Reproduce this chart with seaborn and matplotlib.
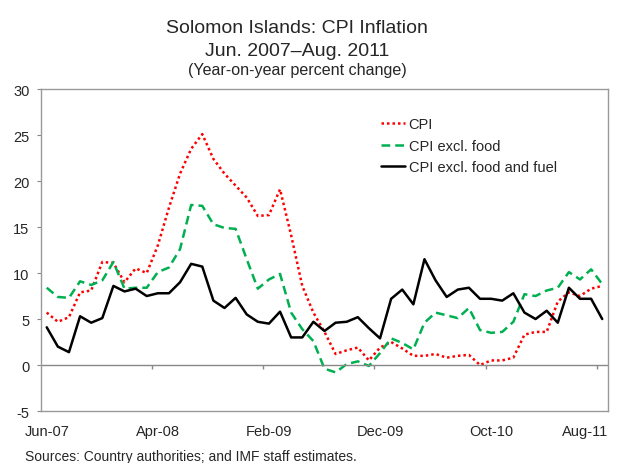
import numpy as np
import pandas as pd
import seaborn as sns
import matplotlib.pyplot as plt

# monthly, Jun-07 .. Aug-11 (51 months)
months = pd.date_range('2007-06-01', '2011-08-01', freq='MS')
cpi = [5.7, 4.7, 5.2, 7.9, 8.1, 11.2, 11.1, 9.0, 10.5, 10.0,
       13.0, 17.1, 20.8, 23.5, 25.1, 22.4, 20.8, 19.5, 18.2, 16.2,
       16.3, 19.1, 14.1, 8.6, 5.7, 3.6, 1.2, 1.6, 1.9, 0.5,
       1.9, 2.5, 1.8, 1.0, 1.0, 1.2, 0.8, 1.0, 1.1, 0.0,
       0.5, 0.5, 0.8, 3.3, 3.6, 3.6, 6.9, 7.9, 7.5, 8.3, 8.6]
cpi_xfood = [8.4, 7.4, 7.3, 9.1, 8.7, 9.2, 11.2, 8.3, 8.4, 8.4,
             10.1, 10.6, 12.6, 17.4, 17.3, 15.3, 14.9, 14.8, 11.5, 8.3,
             9.3, 9.9, 5.7, 3.9, 2.6, -0.4, -0.8, 0.1, 0.4, -0.1,
             1.3, 2.9, 2.4, 1.7, 4.6, 5.7, 5.4, 5.1, 6.2, 3.8,
             3.5, 3.6, 4.7, 7.7, 7.5, 8.1, 8.4, 10.1, 9.3, 10.4, 8.8]
cpi_xfoodfuel = [4.1, 2.0, 1.4, 5.3, 4.6, 5.1, 8.6, 8.0, 8.3, 7.5,
                 7.8, 7.8, 9.0, 11.0, 10.7, 7.0, 6.2, 7.3, 5.5, 4.7,
                 4.5, 5.8, 3.0, 3.0, 4.7, 3.7, 4.6, 4.7, 5.2, 4.0,
                 2.9, 7.2, 8.2, 6.6, 11.5, 9.2, 7.4, 8.2, 8.4, 7.2,
                 7.2, 7.0, 7.8, 5.7, 5.0, 5.9, 4.6, 8.4, 7.2, 7.2, 5.0]
tick_labels = ['Jun-07', 'Apr-08', 'Feb-09', 'Dec-09', 'Oct-10', 'Aug-11']

df = pd.DataFrame({'i': np.arange(len(months)), 'CPI': cpi,
                   'CPI excl. food': cpi_xfood,
                   'CPI excl. food and fuel': cpi_xfoodfuel})

sns.set_style('white')
plt.rcParams['font.family'] = ['Liberation Sans', 'DejaVu Sans']
plt.rcParams['axes.unicode_minus'] = False

fig = plt.figure(figsize=(6.24, 4.64), dpi=100)
ax = fig.add_axes([0.066, 0.112, 0.908, 0.694])

sns.lineplot(data=df, x='i', y='CPI', ax=ax, color='#FF0000', lw=1.8,
             linestyle=(0, (1, 1.2)), label='CPI')
sns.lineplot(data=df, x='i', y='CPI excl. food', ax=ax, color='#00B050', lw=1.8,
             linestyle=(0, (3.5, 2)), label='CPI excl. food')
sns.lineplot(data=df, x='i', y='CPI excl. food and fuel', ax=ax, color='black',
             lw=1.8, label='CPI excl. food and fuel')

n = len(months)
ax.set_xlim(-0.5, n - 0.5)
ax.set_ylim(-5, 30)
ax.set_yticks(range(-5, 31, 5))
label_pos = list(range(0, n, 10))
# last label is pushed in to end at the right edge, as in the original
ax.set_xticks(label_pos[:-1] + [n - 0.5])
ax.set_xticklabels(tick_labels, fontsize=10.5)
ax.get_xticklabels()[-1].set_horizontalalignment('right')
ax.tick_params(axis='x', length=0, pad=9)
ax.tick_params(axis='y', length=3, direction='out', left=True, labelsize=10.5,
               pad=5.5, color='#888888')
ax.set_xlabel('')
ax.set_ylabel('')

# horizontal axis crossing at zero with tick marks between categories
ax.axhline(0, color='#888888', lw=1)
ax.vlines([p - 0.5 for p in label_pos[1:]], -0.45, 0, color='#888888', lw=1)

for s in ax.spines.values():
    s.set_color('#999999')
    s.set_linewidth(1)

ax.legend(loc='upper left', bbox_to_anchor=(0.59, 0.93), frameon=False,
          fontsize=10.5, handlelength=1.6, handletextpad=0.27, labelspacing=0.5,
          borderaxespad=0)

fig.text(0.476, 0.929, 'Solomon Islands: CPI Inflation', ha='center', va='baseline', fontsize=14)
fig.text(0.476, 0.879, 'Jun. 2007\u2013Aug. 2011', ha='center', va='baseline', fontsize=14)
fig.text(0.476, 0.838, '(Year-on-year percent change)', ha='center', va='baseline', fontsize=11.6)
fig.text(0.04, 0.015, 'Sources: Country authorities; and IMF staff estimates.',
         ha='left', va='center', fontsize=10)

fig.savefig('out.png', dpi=100)
